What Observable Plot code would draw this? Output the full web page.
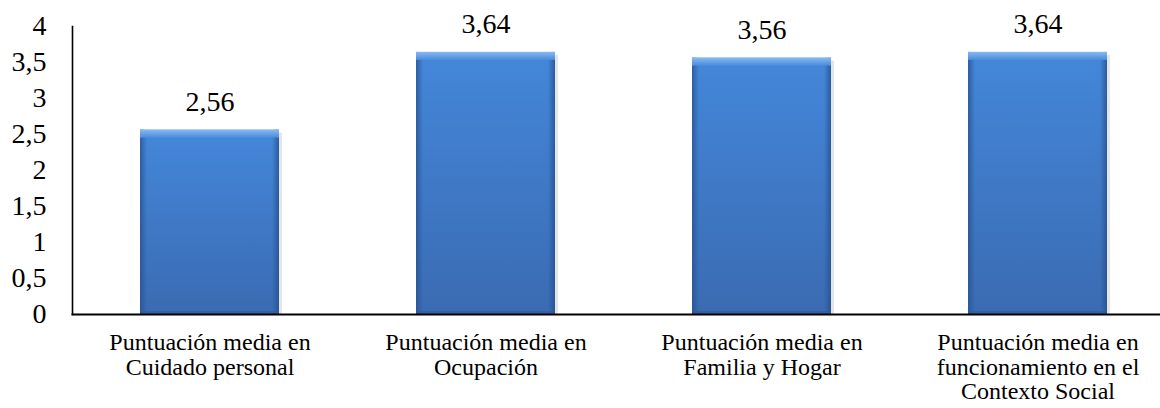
<!DOCTYPE html>
<html>
<head>
<meta charset="utf-8">
<script src="https://cdn.jsdelivr.net/npm/d3@7"></script>
<script src="https://cdn.jsdelivr.net/npm/@observablehq/plot@0.6"></script>
<style>
  html, body { margin: 0; padding: 0; background: #fff; }
  #chart { width: 1160px; height: 408px; }
  #chart svg, #chart svg text { font-family: "Liberation Serif", "Times New Roman", "DejaVu Serif", serif !important; }
</style>
</head>
<body>
<div id="chart"></div>
<script>
const categories = [
  "Puntuación media en\nCuidado personal",
  "Puntuación media en\nOcupación",
  "Puntuación media en\nFamilia y Hogar",
  "Puntuación media en\nfuncionamiento en el\nContexto Social"
];
const values = [2.56, 3.64, 3.56, 3.64];
const yTicks = [0, 0.5, 1, 1.5, 2, 2.5, 3, 3.5, 4];

const data = categories.map((c, i) => ({category: c, value: values[i]}));
const fmt = d => String(d).replace(".", ",");

const chart = Plot.plot({
  width: 1160,
  height: 408,
  marginLeft: 72,
  marginRight: 0,
  marginTop: 26,
  marginBottom: 94,
  style: {color: "#000", background: "#fff", overflow: "visible"},
  x: {domain: categories, range: [72, 1175], paddingInner: 0.496, paddingOuter: 0.246, label: null},
  y: {domain: [0, 4], label: null},
  marks: [
    Plot.barY(data, {x: "category", y: "value", fill: "#000", fillOpacity: 0.10, dx: 3, insetTop: 3}),
    Plot.barY(data, {x: "category", y: "value", fill: "url(#bodyGrad)"}),
    Plot.barY(data, {x: "category", y: "value", fill: "url(#sideGrad)"}),
    Plot.barY(data, {x: "category", y1: "value", y2: "value", insetBottom: -8, fill: "url(#topGrad)"}),
    Plot.barY(data, {x: "category", y1: 0, y2: 0, insetTop: -3, fill: "#2f5c9a", fillOpacity: 0.6}),
    Plot.frame({anchor: "left", stroke: "#000", strokeWidth: 1.6}),
    Plot.frame({anchor: "bottom", stroke: "#000", strokeWidth: 2}),
    Plot.axisY({ticks: yTicks, tickFormat: fmt, tickSize: 0, tickPadding: 26, fontSize: 28, label: null}),
    Plot.axisX({tickSize: 0, tickPadding: 18, fontSize: 24, lineHeight: 1.03, label: null}),
    Plot.text(data, {x: "category", y: "value", text: d => fmt(d.value), lineAnchor: "bottom", dy: -19, fontSize: 28, fill: "#000"})
  ]
});

const svgEl = chart.tagName.toLowerCase() === "svg" ? chart : chart.querySelector("svg");
const defs = d3.select(svgEl).insert("defs", ":first-child");
const bodyG = defs.append("linearGradient").attr("id", "bodyGrad").attr("x1", 0).attr("y1", 0).attr("x2", 0).attr("y2", 1);
bodyG.append("stop").attr("offset", "0%").attr("stop-color", "#4487da");
bodyG.append("stop").attr("offset", "100%").attr("stop-color", "#3a6bb2");
const sideG = defs.append("linearGradient").attr("id", "sideGrad").attr("x1", 0).attr("y1", 0).attr("x2", 1).attr("y2", 0);
sideG.append("stop").attr("offset", "0%").attr("stop-color", "#24508f").attr("stop-opacity", 0.75);
sideG.append("stop").attr("offset", "5%").attr("stop-color", "#24508f").attr("stop-opacity", 0.0);
sideG.append("stop").attr("offset", "95%").attr("stop-color", "#24508f").attr("stop-opacity", 0.0);
sideG.append("stop").attr("offset", "100%").attr("stop-color", "#24508f").attr("stop-opacity", 0.8);
const topG = defs.append("linearGradient").attr("id", "topGrad").attr("x1", 0).attr("y1", 0).attr("x2", 0).attr("y2", 1);
topG.append("stop").attr("offset", "0%").attr("stop-color", "#86b9f2");
topG.append("stop").attr("offset", "100%").attr("stop-color", "#4a8bdb");

document.getElementById("chart").appendChild(chart);
</script>
</body>
</html>
